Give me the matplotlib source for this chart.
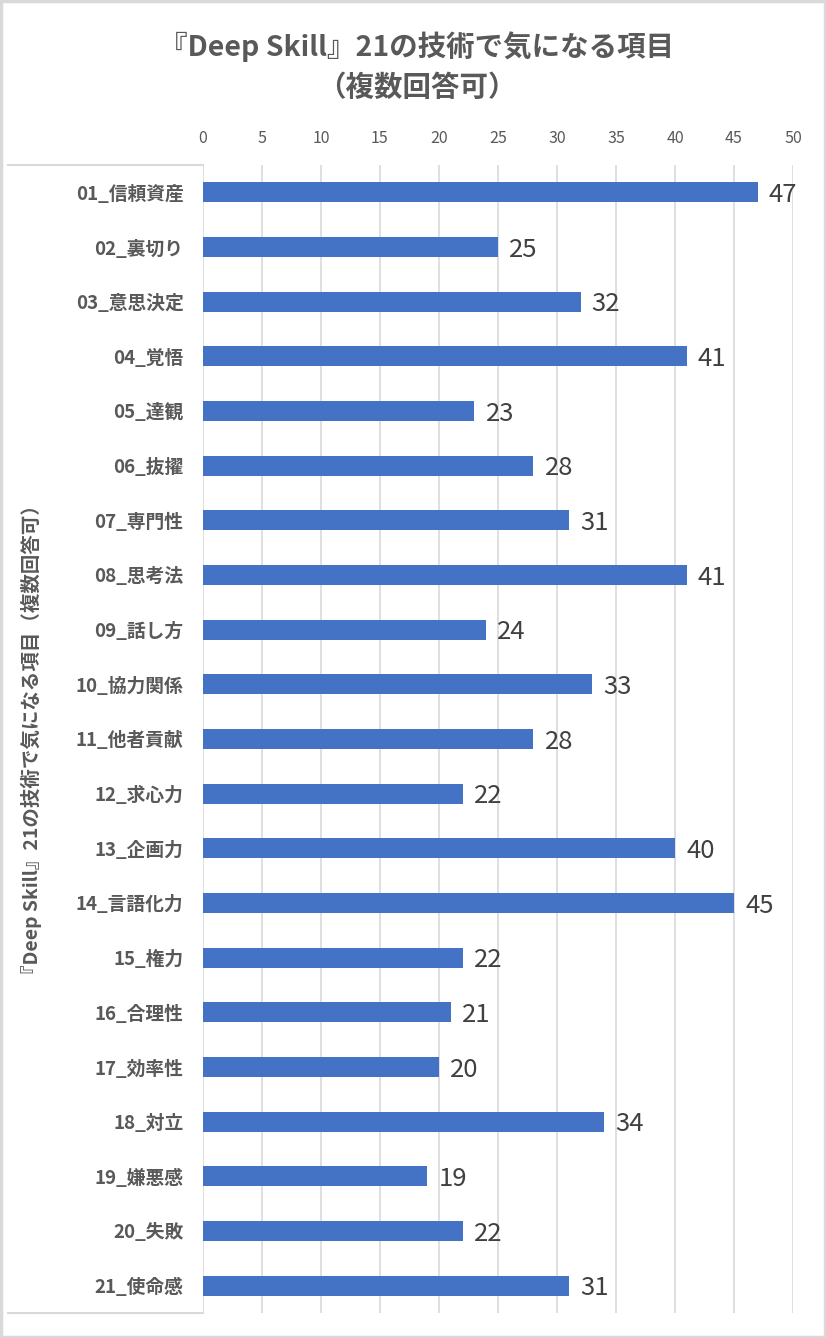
import matplotlib
matplotlib.use("Agg")
import matplotlib.pyplot as plt
from matplotlib.lines import Line2D
from matplotlib.patches import Rectangle

plt.rcParams['font.family'] = ['Noto Sans CJK JP', 'DejaVu Sans']

categories = ["01_信頼資産", "02_裏切り", "03_意思決定", "04_覚悟", "05_達観", "06_抜擢",
              "07_専門性", "08_思考法", "09_話し方", "10_協力関係", "11_他者貢献", "12_求心力",
              "13_企画力", "14_言語化力", "15_権力", "16_合理性", "17_効率性", "18_対立",
              "19_嫌悪感", "20_失敗", "21_使命感"]
values = [47, 25, 32, 41, 23, 28, 31, 41, 24, 33, 28, 22, 40, 45, 22, 21, 20, 34, 19, 22, 31]
xticks = [0, 5, 10, 15, 20, 25, 30, 35, 40, 45, 50]
title = "『Deep Skill』21の技術で気になる項目\n（複数回答可）"
ylabel = "『Deep Skill』21の技術で気になる項目（複数回答可）"

W, H = 826, 1338
fig = plt.figure(figsize=(W / 100, H / 100), dpi=100)

gray = "#595959"
grid = "#d9d9d9"
blue = "#4472C4"

left, right, top, bottom = 203, 793, 165, 1313
ax = fig.add_axes([left / W, 1 - bottom / H, (right - left) / W, (bottom - top) / H])

y = list(range(len(categories)))
ax.barh(y, values, height=0.36, color=blue, zorder=3)
ax.set_ylim(len(categories) - 0.5, -0.5)
ax.set_xlim(0, 50)
ax.set_xticks(xticks)
ax.xaxis.tick_top()
ax.tick_params(axis='x', length=0, pad=13, labelsize=11.5, labelcolor=gray)
ax.set_yticks(y)
ax.set_yticklabels(categories, fontsize=13.5, fontweight='bold', color=gray)
ax.tick_params(axis='y', length=0, pad=14)
ax.grid(axis='x', color=grid, linewidth=1.2, zorder=0)
for s in ax.spines.values():
    s.set_visible(False)

for yi, v in zip(y, values):
    ax.annotate(str(v), (v, yi), xytext=(8, -2), textcoords='offset points',
                va='center', ha='left', fontsize=18.5, color="#404040")

fig.text(417 / W, 1 - 67 / H, title, ha='center', va='center', fontsize=20.5,
         fontweight='bold', color=gray, linespacing=1.55)
fig.text(31 / W, 1 - 740 / H, ylabel, rotation=90, ha='center', va='center',
         fontsize=14, fontweight='bold', color=gray)

# label box lines
for yy in (top, bottom):
    fig.add_artist(Line2D([8 / W, left / W], [1 - yy / H, 1 - yy / H],
                          color=grid, linewidth=1.5, transform=fig.transFigure))

# outer border
fig.add_artist(Rectangle((0.001, 0.001), 0.998, 0.998, transform=fig.transFigure,
                         fill=False, edgecolor=grid, linewidth=2.5))

fig.savefig("out.png", dpi=100)
